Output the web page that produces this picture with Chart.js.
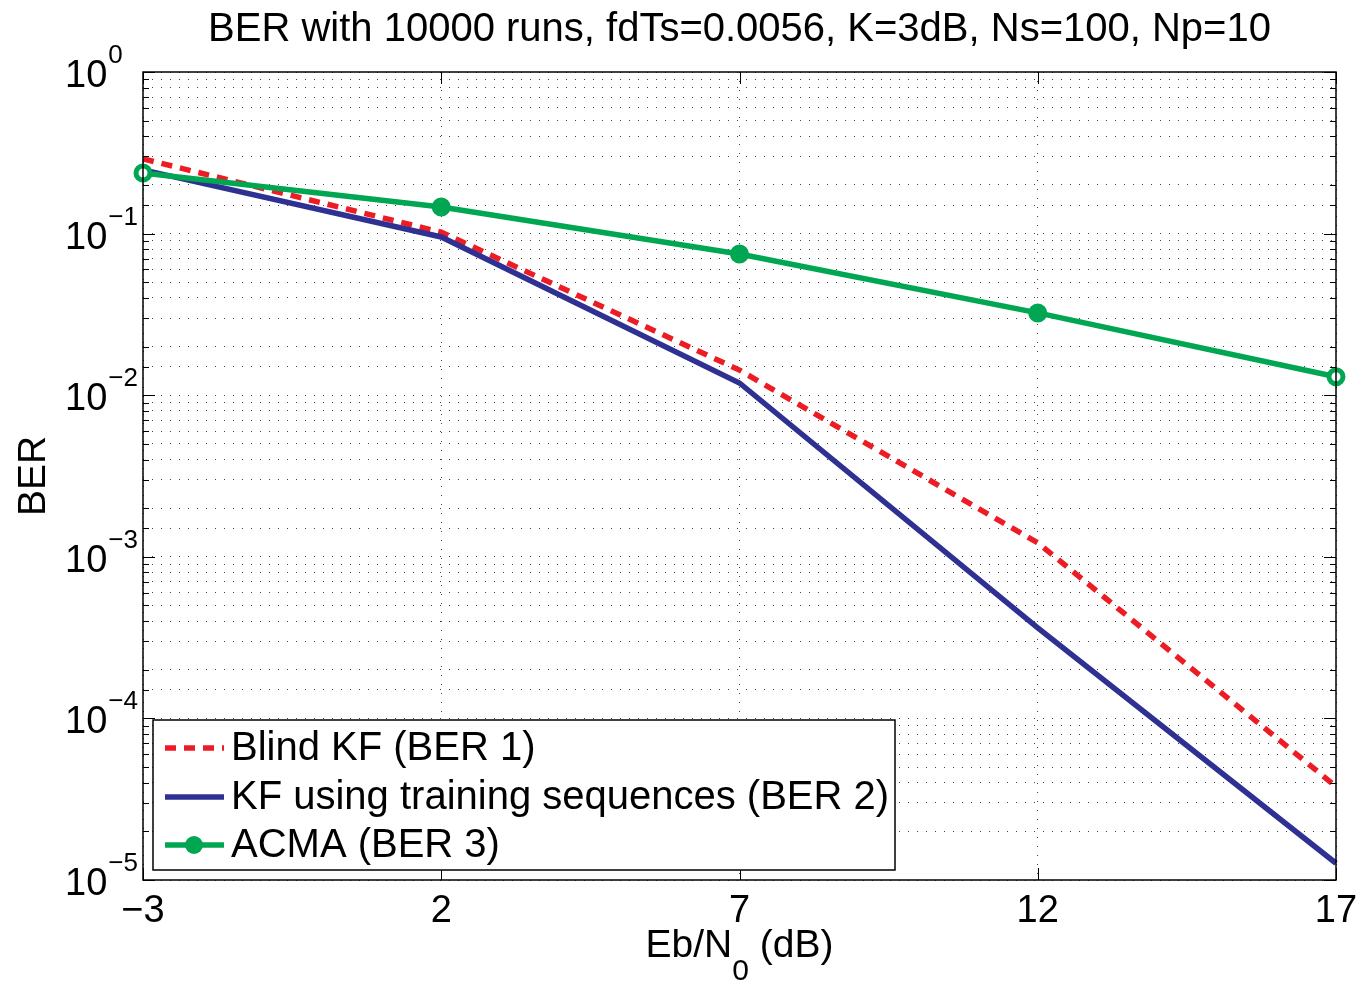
<!DOCTYPE html>
<html>
<head>
<meta charset="utf-8">
<script src="https://cdn.jsdelivr.net/npm/chart.js@4"></script>
<style>
  html, body { margin: 0; padding: 0; background: #fff; }
  #wrap { width: 1361px; height: 983px; }
</style>
</head>
<body>
<div id="wrap"><canvas id="berChart" width="1361" height="983"></canvas></div>
<script>
// Eb/N0 (dB) points
var snr = [-3, 2, 7, 12, 17];
var xTicks = [-3, 2, 7, 12, 17];
// BER curves
var berBlind = [0.290, 0.102, 0.0143, 0.00122, 0.0000379];
var berTraining = [0.248, 0.0953, 0.0119, 0.000363, 0.0000127];
var berAcma = [0.237, 0.146, 0.0748, 0.0323, 0.0130];
var seriesNames = ['Blind KF (BER 1)', 'KF using training sequences (BER 2)', 'ACMA (BER 3)'];
var titleText = 'BER with 10000 runs, fdTs=0.0056, K=3dB, Ns=100, Np=10';

var RED = '#ED1C24', BLUE = '#2E3192', GREEN = '#00A651';
var FONT = '"Liberation Sans", Arial, Helvetica, sans-serif';

function pts(ys) {
  return snr.map(function (x, i) { return { x: x, y: ys[i] }; });
}

// draws title, tick labels with exponents, box, inward ticks, legend
var matlabLook = {
  id: 'matlabLook',
  afterDraw: function (chart) {
    var ctx = chart.ctx;
    var a = chart.chartArea;
    var xs = chart.scales.x, ys = chart.scales.y;
    ctx.save();
    ctx.fillStyle = '#000';
    ctx.strokeStyle = '#000';
    ctx.setLineDash([]);

    // inward tick marks
    ctx.lineWidth = 1;
    ctx.beginPath();
    ys.ticks.forEach(function (t) {
      var y = Math.round(ys.getPixelForValue(t.value)) + 0.5;
      var len = t.major ? 12 : 6;
      ctx.moveTo(a.left, y); ctx.lineTo(a.left + len, y);
      ctx.moveTo(a.right, y); ctx.lineTo(a.right - len, y);
    });
    xTicks.forEach(function (v) {
      var x = Math.round(xs.getPixelForValue(v)) + 0.5;
      ctx.moveTo(x, a.bottom); ctx.lineTo(x, a.bottom - 12);
      ctx.moveTo(x, a.top); ctx.lineTo(x, a.top + 12);
    });
    ctx.stroke();

    // box
    ctx.lineWidth = 1.5;
    ctx.strokeRect(a.left, a.top, a.right - a.left, a.bottom - a.top);

    // title
    ctx.font = '40px ' + FONT;
    ctx.textAlign = 'center';
    ctx.textBaseline = 'alphabetic';
    ctx.fillText(titleText, (a.left + a.right) / 2, 41);

    // x tick labels
    ctx.font = '38px ' + FONT;
    xTicks.forEach(function (v) {
      var lbl = v < 0 ? '\u2212' + Math.abs(v) : String(v);
      ctx.fillText(lbl, xs.getPixelForValue(v), 922);
    });

    // y tick labels 10^n
    ctx.textAlign = 'left';
    ys.ticks.forEach(function (t) {
      if (!t.major) return;
      var y = ys.getPixelForValue(t.value);
      var e = Math.round(Math.log10(t.value));
      ctx.font = '38px ' + FONT;
      ctx.fillText('10', 65, y + 15);
      var w = ctx.measureText('10').width;
      ctx.font = '26px ' + FONT;
      ctx.fillText(e < 0 ? '\u2212' + Math.abs(e) : String(e), 65 + w + 1, y - 9);
    });

    // x axis title with subscript
    var cx = (a.left + a.right) / 2;
    ctx.font = '39px ' + FONT;
    var p1 = 'Eb/N', p2 = ' (dB)';
    var w1 = ctx.measureText(p1).width, w3 = ctx.measureText(p2).width;
    ctx.font = '30px ' + FONT;
    var w2 = ctx.measureText('0').width;
    var x0 = cx - (w1 + w2 + w3) / 2;
    ctx.font = '39px ' + FONT;
    ctx.fillText(p1, x0, 957);
    ctx.fillText(p2, x0 + w1 + w2, 957);
    ctx.font = '30px ' + FONT;
    ctx.fillText('0', x0 + w1, 980);

    // y axis title
    ctx.save();
    ctx.translate(45, (a.top + a.bottom) / 2);
    ctx.rotate(-Math.PI / 2);
    ctx.textAlign = 'center';
    ctx.font = '39px ' + FONT;
    ctx.fillText('BER', 0, 0);
    ctx.restore();

    // legend
    var lx = 153, ly = 720, lw = 742, lh = 150;
    ctx.fillStyle = '#fff';
    ctx.fillRect(lx, ly, lw, lh);
    ctx.lineWidth = 1.5;
    ctx.strokeStyle = '#000';
    ctx.strokeRect(lx, ly, lw, lh);
    var rows = [748, 797, 845];
    var cols = [RED, BLUE, GREEN];
    for (var i = 0; i < 3; i++) {
      var ry = rows[i];
      ctx.strokeStyle = cols[i];
      ctx.lineWidth = 5.5;
      ctx.setLineDash(i === 0 ? [11, 8] : []);
      ctx.beginPath();
      ctx.moveTo(165, ry); ctx.lineTo(224, ry);
      ctx.stroke();
      ctx.setLineDash([]);
      if (i === 2) {
        ctx.fillStyle = GREEN;
        ctx.beginPath();
        ctx.arc(194, ry, 9, 0, Math.PI * 2);
        ctx.fill();
      }
      ctx.fillStyle = '#000';
      ctx.font = '40px ' + FONT;
      ctx.textBaseline = 'middle';
      ctx.fillText(seriesNames[i], 231, ry + 1);
      ctx.textBaseline = 'alphabetic';
    }
    ctx.restore();
  }
};

var ctx = document.getElementById('berChart');
new Chart(ctx, {
  type: 'line',
  data: {
    datasets: [
      {
        label: seriesNames[0], data: pts(berBlind), borderColor: RED, borderWidth: 5.5,
        borderDash: [11, 8], pointRadius: 0, tension: 0, order: 3, clip: false
      },
      {
        label: seriesNames[1], data: pts(berTraining), borderColor: BLUE, borderWidth: 5.5,
        pointRadius: 0, tension: 0, order: 2, clip: false
      },
      {
        label: seriesNames[2], data: pts(berAcma), borderColor: GREEN, borderWidth: 5.5,
        pointRadius: 7, pointBorderWidth: 5, pointBorderColor: GREEN,
        pointBackgroundColor: ['#fff', GREEN, GREEN, GREEN, '#fff'],
        tension: 0, order: 1, clip: false
      }
    ]
  },
  options: {
    responsive: false,
    animation: false,
    layout: { padding: { left: 143, right: 25, top: 72, bottom: 103 } },
    plugins: { legend: { display: false }, title: { display: false }, tooltip: { enabled: false } },
    scales: {
      x: {
        type: 'linear', min: -3, max: 17,
        afterBuildTicks: function (s) { s.ticks = xTicks.map(function (v) { return { value: v }; }); },
        afterFit: function (s) { s.height = 0; },
        ticks: { display: false },
        grid: { color: '#444', lineWidth: 1, drawTicks: false },
        border: { display: false, dash: [1, 8] }
      },
      y: {
        type: 'logarithmic', min: 1e-5, max: 1,
        afterFit: function (s) { s.width = 0; },
        ticks: { display: false, autoSkip: false },
        grid: { color: '#444', lineWidth: 1, drawTicks: false },
        border: { display: false, dash: [1, 8] }
      }
    }
  },
  plugins: [matlabLook]
});
</script>
</body>
</html>
